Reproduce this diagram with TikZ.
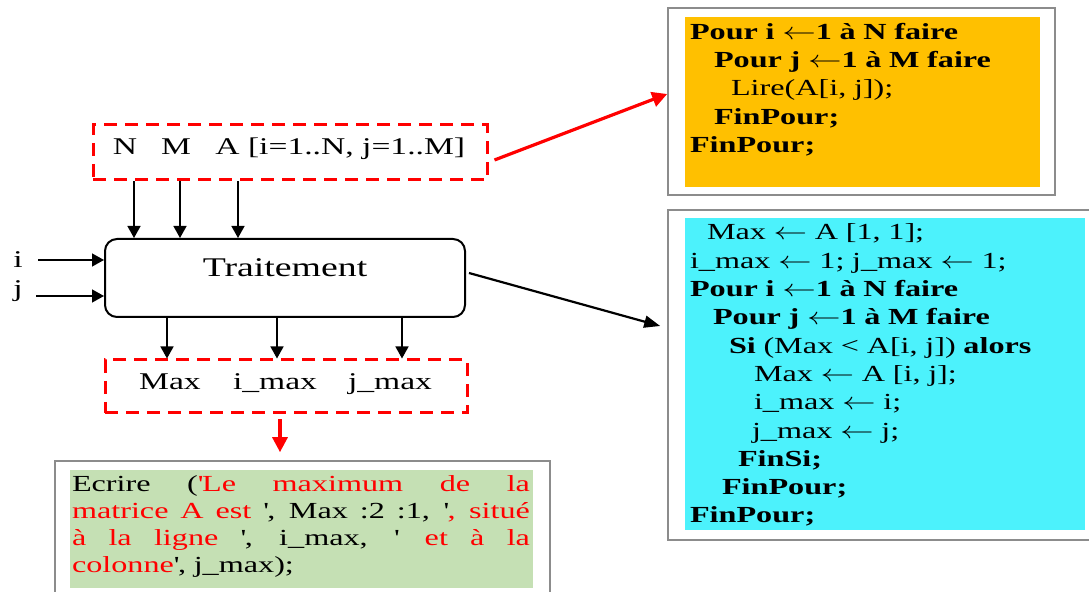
\documentclass[tikz,border=0pt]{standalone}
\usepackage{fontspec}
\usepackage{graphicx}
\setmainfont{Liberation Serif}[FakeStretch=1.4]
\usetikzlibrary{arrows.meta, positioning, calc}

\definecolor{codeorange}{HTML}{FFC000}
\definecolor{codecyan}{HTML}{4CF2FC}
\definecolor{codegreen}{HTML}{C5E0B4}
\definecolor{framegray}{HTML}{8C8C8C}

\newcommand{\fleche}{\scalebox{1.4}[1]{$\leftarrow$}}
\newcommand{\jline}[1]{\noindent\hbox to 229pt{\spaceskip=0.25em plus 1fil\relax #1}}

\begin{document}
\begin{tikzpicture}[
    x=0.5pt, y=-0.5pt,
    dashbox/.style={rectangle, draw=red, line width=1.5pt, dash pattern=on 6.5pt off 4pt, inner sep=0pt},
    procbox/.style={rectangle, draw, line width=1pt, rounded corners=6pt, inner sep=0pt},
    frame/.style={rectangle, draw=framegray, line width=0.8pt, inner sep=0pt},
    codefill/.style={rectangle, inner sep=0pt},
    code/.style={anchor=north west, inner xsep=2.5pt, inner ysep=3pt, align=left, font=\fontsize{11.5}{14.15}\selectfont},
    iotext/.style={font=\fontsize{12}{14}\selectfont, inner sep=0pt},
    arrow/.style={-{Triangle[length=6pt, width=6.5pt]}, line width=0.7pt},
    redarrow/.style={-{Triangle[length=7.5pt, width=7.5pt]}, line width=1.6pt, red},
    blackarrow/.style={-{Triangle[length=8pt, width=6pt]}, line width=1.1pt}
]
\clip (0,0) rectangle (1089,592);

% entrees
\node[dashbox, minimum width=197pt, minimum height=27.5pt] (inputs) at (290,152.5) {};
\node[iotext, anchor=base] (inN) at (125,155) {N};
\node[iotext, anchor=base] (inM) at (176,155) {M};
\node[iotext, anchor=base west] (inA) at (215,155) {A [i=1..N, j=1..M]};

% traitement
\node[procbox, minimum width=180pt, minimum height=39pt] (proc) at (285,278) {};
\node[font=\fontsize{13.5}{16}\selectfont, anchor=base] (proctext) at (285,277) {Traitement};
\node[iotext, anchor=base] (ilab) at (18,268) {i};
\node[iotext, anchor=base] (jlab) at (18,297) {j};
\coordinate (iin) at (38,260);
\coordinate (jin) at (36,296);

% sorties
\node[dashbox, minimum width=181pt, minimum height=26.5pt] (outputs) at (286,386.5) {};
\node[iotext, anchor=base] (outMax) at (170,390) {Max};
\node[iotext, anchor=base] (outImax) at (275,390) {i\_max};
\node[iotext, anchor=base] (outJmax) at (390,390) {j\_max};

% lecture
\node[frame, minimum width=193.5pt, minimum height=93.5pt] (oframe) at (861.5,101.5) {};
\node[codefill, fill=codeorange, minimum width=177.5pt, minimum height=85pt] (ofill) at (862.5,102) {};
\node[code, text width=172pt] (ocode) at (ofill.north west) {%
\textbf{Pour i \fleche1 à N faire}\\
\hspace*{12pt}\textbf{Pour j \fleche1 à M faire}\\
\hspace*{20.5pt}Lire(A[i, j]);\\
\hspace*{12pt}\textbf{FinPour;}\\
\textbf{FinPour;}};

% recherche du maximum
\node[frame, minimum width=216pt, minimum height=165pt] (cframe) at (884,375) {};
\node[codefill, fill=codecyan, minimum width=200pt, minimum height=156pt] (cfill) at (885,374) {};
\node[code, text width=195pt] (ccode) at (cfill.north west) {%
\hspace*{8.5pt}Max \fleche{} A [1, 1];\\
i\_max \fleche{} 1; j\_max \fleche{} 1;\\
\textbf{Pour i \fleche1 à N faire}\\
\hspace*{11.5pt}\textbf{Pour j \fleche1 à M faire}\\
\hspace*{19.5pt}\textbf{Si} (Max < A[i, j]) \textbf{alors}\\
\hspace*{32pt}Max \fleche{} A [i, j];\\
\hspace*{32pt}i\_max \fleche{} i;\\
\hspace*{31pt}j\_max \fleche{} j;\\
\hspace*{24pt}\textbf{FinSi;}\\
\hspace*{16pt}\textbf{FinPour;}\\
\textbf{FinPour;}};

% affichage
\node[frame, minimum width=247.5pt, minimum height=71.5pt] (wframe) at (302.5,532.5) {};
\node[codefill, fill=codegreen, minimum width=231.5pt, minimum height=59pt] (wfill) at (301.5,529) {};
\node[code, text width=229pt, inner xsep=1pt, font=\fontsize{11.5}{13.35}\selectfont] (wcode) at (wfill.north west) {%
\jline{Ecrire (\textcolor{red}{\textquotesingle Le maximum de la}}\\
\jline{\textcolor{red}{matrice A est} \textquotesingle, Max :2 :1, \textquotesingle\textcolor{red}{, situé}}\\
\jline{\textcolor{red}{à la ligne} \textquotesingle, i\_max, \textquotesingle{} \textcolor{red}{et à la}}\\
\textcolor{red}{colonne}\textquotesingle, j\_max);};

% fleches
\foreach \dx in {-78,-55,-26}
    \draw[arrow] ([xshift=\dx pt]inputs.south) -- ([xshift=\dx pt]inputs.south |- proc.north);
\draw[arrow] (iin) -- (iin -| proc.west);
\draw[arrow] (jin) -- (jin -| proc.west);
\foreach \dx in {-59,-4,58.5}
    \draw[arrow] ([xshift=\dx pt]proc.south) -- ([xshift=\dx pt]proc.south |- outputs.north);
\draw[redarrow, shorten <=2.5pt, shorten >=4pt] ([xshift=-3pt]outputs.south) -- ([xshift=-3pt]outputs.south |- wframe.north);
\draw[redarrow] ([xshift=3pt, yshift=-3.75pt]inputs.east) -- ([yshift=3.75pt]oframe.west);
\draw[blackarrow] ([xshift=1.5pt, yshift=2.5pt]proc.east) -- ([xshift=-3.5pt, yshift=24.5pt]cframe.west);

\end{tikzpicture}
\end{document}
